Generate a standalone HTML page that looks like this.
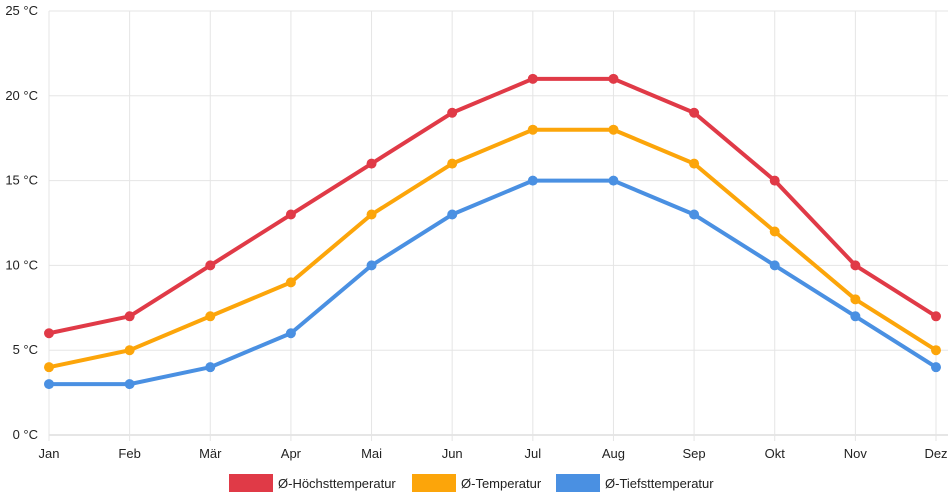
<!DOCTYPE html>
<html><head><meta charset="utf-8"><style>
html,body{margin:0;padding:0;background:#fff;}
svg{display:block;font-family:"Liberation Sans",sans-serif;}
</style></head><body>
<svg id="chart" width="952" height="500"></svg>
<script>
const months=["Jan","Feb","Mär","Apr","Mai","Jun","Jul","Aug","Sep","Okt","Nov","Dez"];
const highs=[6,7,10,13,16,19,21,21,19,15,10,7];
const avgs=[4,5,7,9,13,16,18,18,16,12,8,5];
const lows=[3,3,4,6,10,13,15,15,13,10,7,4];
const yTicks=[0,5,10,15,20,25];
const seriesNames=["Ø-Höchsttemperatur","Ø-Temperatur","Ø-Tiefsttemperatur"];
const colors=["#e03a47","#fca50a","#4a90e2"];
const NS="http://www.w3.org/2000/svg";
const svg=document.getElementById('chart');
const x0=49,x1=936,y0=435,y1=11;
function xs(i){return x0+i*(x1-x0)/(months.length-1);}
function ys(v){return y0-(v/25)*(y0-y1);}
function mk(t,a,p){const e=document.createElementNS(NS,t);for(const k in a)e.setAttribute(k,a[k]);(p||svg).appendChild(e);return e;}
const grid=mk('g',{});


yTicks.forEach(v=>{
  const l=mk('line',{x1:x0,x2:x1+12,y1:ys(v),y2:ys(v),stroke:v===0?'#ccc':'#e5e5e5','stroke-width':1},grid);
  
  
  const t=mk('text',{x:38,y:ys(v)+4,'text-anchor':'end','font-size':13,fill:'#222'});
  t.textContent=v+' °C';
  
  
});
months.forEach((m,i)=>{
  const l=mk('line',{x1:xs(i),x2:xs(i),y1:y1,y2:y0+6,stroke:'#e5e5e5','stroke-width':1},grid);
  
  
  const t=mk('text',{x:xs(i),y:458,'text-anchor':'middle','font-size':13,fill:'#222'});
  t.textContent=m;
  
  
});
[highs,avgs,lows].forEach((d,s)=>{
  const g=mk('g',{});
  
  
  const p=mk('polyline',{points:d.map((v,i)=>xs(i)+','+ys(v)).join(' '),fill:'none',stroke:colors[s],'stroke-width':4,'stroke-linejoin':'round'},g);
  
  
  d.forEach((v,i)=>{
    const c=mk('circle',{cx:xs(i),cy:ys(v),r:5,fill:colors[s]},g);
    
    
  });
});
const legX=[229,412,556];
seriesNames.forEach((n,s)=>{
  const g=mk('g',{});
  
  
  mk('rect',{x:legX[s],y:474,width:44,height:18,fill:colors[s]},g);
  const t=mk('text',{x:legX[s]+49,y:488,'font-size':13,fill:'#222'},g);
  t.textContent=n;
});
</script>
</body></html>
